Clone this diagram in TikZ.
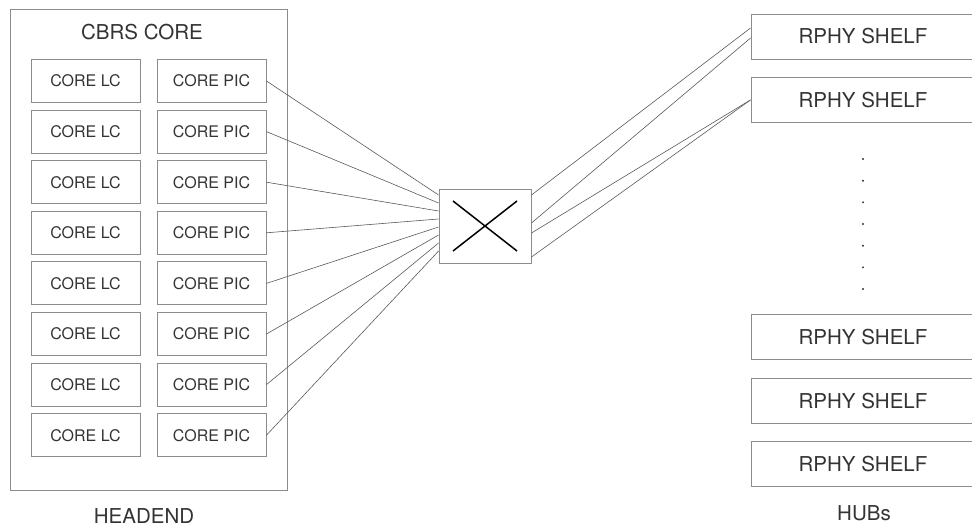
\documentclass[tikz,border=0pt]{standalone}
\usepackage{fontspec}
\setmainfont{TeX Gyre Heros}
\usetikzlibrary{positioning,calc}

\begin{document}
\begin{tikzpicture}[x=1pt, y=-1pt, node distance={6.7pt}, font=\fontsize{16}{18}\selectfont,
  box/.style = {draw=gray!90, line width=0.9pt, minimum width=109pt, minimum height=43pt, inner sep=0pt, text=black!80},
  shelf/.style = {draw=gray!90, line width=0.9pt, minimum width=224pt, minimum height=45pt, inner sep=0pt, font=\fontsize{20.5}{22}\selectfont, text=black!80},
  big/.style = {font=\fontsize{20.5}{22}\selectfont, text=black!80},
  link/.style = {draw=gray!70!black, line width=0.6pt}]
\useasboundingbox (0,0) rectangle (972,527);
\node[draw=gray!90, line width=0.9pt, minimum width=277pt, minimum height=481pt] (hd) at (148.5,250) {};
\node[big] (title) at (142,32) {CBRS CORE};
\node[box] (lc1) at (85.5,81) {CORE LC};
\node[box] (lc2) [below=of lc1] {CORE LC};
\node[box] (lc3) [below=of lc2] {CORE LC};
\node[box] (lc4) [below=of lc3] {CORE LC};
\node[box] (lc5) [below=of lc4] {CORE LC};
\node[box] (lc6) [below=of lc5] {CORE LC};
\node[box] (lc7) [below=of lc6] {CORE LC};
\node[box] (lc8) [below=of lc7] {CORE LC};
\node[box] (pic1) at (211.5,81) {CORE PIC};
\node[box] (pic2) [below=of pic1] {CORE PIC};
\node[box] (pic3) [below=of pic2] {CORE PIC};
\node[box] (pic4) [below=of pic3] {CORE PIC};
\node[box] (pic5) [below=of pic4] {CORE PIC};
\node[box] (pic6) [below=of pic5] {CORE PIC};
\node[box] (pic7) [below=of pic6] {CORE PIC};
\node[box] (pic8) [below=of pic7] {CORE PIC};
\node[big] (headend) at (144,516) {HEADEND};
% switch
\node[draw=gray!90, line width=0.9pt, minimum width=92pt, minimum height=74pt] (sw) at (485,226) {};
\draw[line width=1.5pt] ($(sw)+(-32,-25)$) -- ($(sw)+(32,25)$);
\draw[line width=1.5pt] ($(sw)+(-32,25)$) -- ($(sw)+(32,-25)$);
% hubs
\node[shelf] (sh1) at (863,36.5) {RPHY SHELF};
\node[shelf] (sh2) [below=17.5pt of sh1] {RPHY SHELF};
\node[shelf] (sh3) at (863,337) {RPHY SHELF};
\node[shelf] (sh4) [below=18pt of sh3] {RPHY SHELF};
\node[shelf] (sh5) [below=17.5pt of sh4] {RPHY SHELF};
\draw[black!80, line width=2.2pt, line cap=round, dash pattern=on 0pt off 21.67pt] (863,159) -- (863,291);
\node[big] (hubs) at (864,513) {HUBs};
% links
\draw[link] (pic1.east) -- ($(sw.west)+(0,-31)$);
\draw[link] (pic2.east) -- ($(sw.west)+(0,-23)$);
\draw[link] (pic3.east) -- ($(sw.west)+(0,-15)$);
\draw[link] (pic4.east) -- ($(sw.west)+(0,-7)$);
\draw[link] (pic5.east) -- ($(sw.west)+(0,1)$);
\draw[link] (pic6.east) -- ($(sw.west)+(0,9)$);
\draw[link] (pic7.east) -- ($(sw.west)+(0,17)$);
\draw[link] (pic8.east) -- ($(sw.west)+(0,25)$);
\draw[link] ($(sw.east)+(0,-31)$) -- ($(sh1.west)+(0,-8.5)$);
\draw[link] ($(sw.east)+(0,-3)$) -- ($(sh1.west)+(0,1.5)$);
\draw[link] ($(sw.east)+(0,7)$) -- (sh2.west);
\draw[link] ($(sw.east)+(0,31)$) -- (sh2.west);
\end{tikzpicture}
\end{document}
